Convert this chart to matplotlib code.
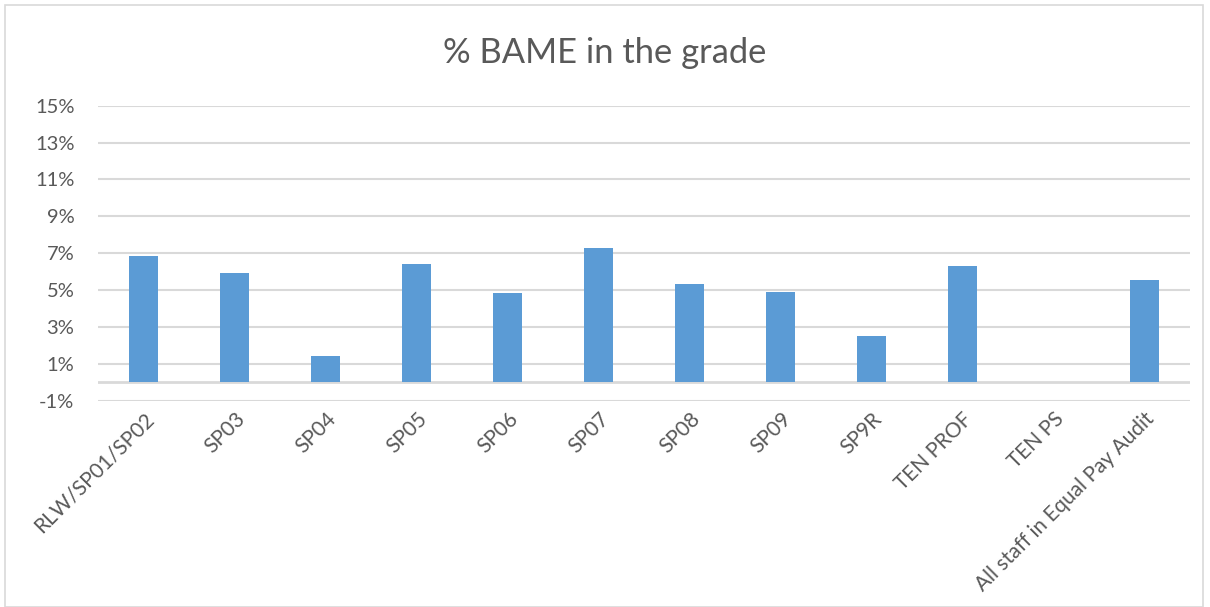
import matplotlib
matplotlib.use("Agg")
import matplotlib.pyplot as plt
from matplotlib.patches import Rectangle
from matplotlib.ticker import FuncFormatter

categories = ["RLW/SP01/SP02", "SP03", "SP04", "SP05", "SP06", "SP07", "SP08",
              "SP09", "SP9R", "TEN PROF", "TEN PS", "All staff in Equal Pay Audit"]
values = [0.0687, 0.0590, 0.0145, 0.0643, 0.0482, 0.0730, 0.0535,
          0.0492, 0.0253, 0.0632, 0.0, 0.0557]
yticks = [-0.01, 0.01, 0.03, 0.05, 0.07, 0.09, 0.11, 0.13, 0.15]

plt.rcParams['font.family'] = ['Lato', 'DejaVu Sans']
txt = '#595959'
grid = '#D9D9D9'

fig = plt.figure(figsize=(12.1, 6.07), dpi=100)
W, H = 1210, 607
ax = fig.add_axes([98 / W, 1 - 400.7 / H, (1190 - 98) / W, (400.7 - 105.7) / H])

x = list(range(len(categories)))
ax.bar(x, values, width=0.31, color='#5B9BD5', zorder=3)
ax.set_xlim(-0.5, len(categories) - 0.5)
ax.set_ylim(-0.01, 0.15)
ax.set_yticks(yticks)
ax.yaxis.set_major_formatter(FuncFormatter(lambda v, p: f"{v*100:.0f}%"))
ax.grid(axis='y', color=grid, linewidth=1.5, zorder=0)
ax.axhline(0, color=grid, linewidth=2, zorder=2)
for s in ax.spines.values():
    s.set_visible(False)
ax.tick_params(axis='y', length=0, pad=17, labelsize=14.5, labelcolor=txt)
ax.tick_params(axis='x', length=0, pad=6, labelsize=15, labelcolor=txt)
ax.set_xticks(x)
ax.set_xticklabels(categories, rotation=45, ha='right', va='top', rotation_mode='anchor')

fig.text(0.5, 1 - 63 / H, "% BAME in the grade", ha='center', va='baseline',
         fontsize=24.8, color=txt)

fig.patches.append(Rectangle((5 / W, 0), (1203 - 5) / W, 1 - 5 / H, transform=fig.transFigure,
                             fill=False, edgecolor=grid, linewidth=1.2))

fig.savefig("out.png", dpi=100)
